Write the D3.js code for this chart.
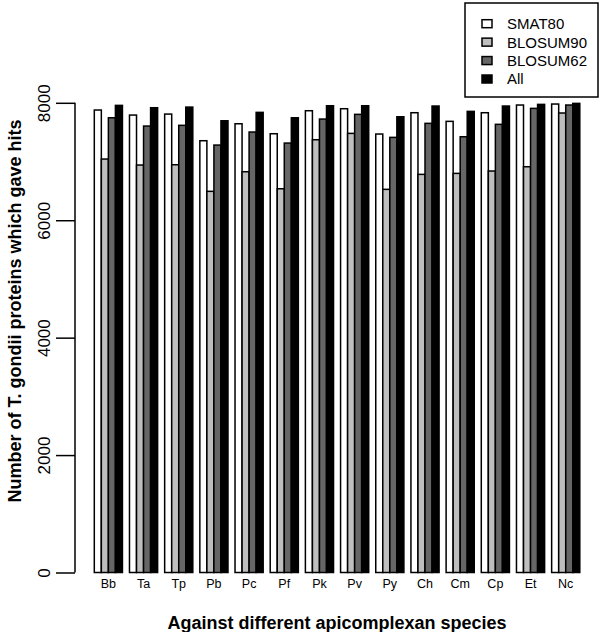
<!DOCTYPE html>
<html>
<head>
<meta charset="utf-8">
<script src="https://cdn.jsdelivr.net/npm/d3@7"></script>
<style>
  html, body { margin: 0; padding: 0; background: #fff; }
  svg { display: block; font-family: "Liberation Sans", Arial, Helvetica, sans-serif; }
</style>
</head>
<body>
<svg id="chart" width="600" height="632"></svg>
<script>
const categories = ["Bb","Ta","Tp","Pb","Pc","Pf","Pk","Pv","Py","Ch","Cm","Cp","Et","Nc"];
const seriesNames = ["SMAT80","BLOSUM90","BLOSUM62","All"];
const smat80   = [7877,7791,7808,7354,7643,7473,7865,7899,7468,7831,7684,7831,7962,7979];
const blosum90 = [7042,6940,6945,6492,6826,6536,7371,7479,6526,6781,6798,6838,6911,7826];
const blosum62 = [7745,7604,7616,7280,7502,7314,7723,7803,7411,7650,7422,7633,7905,7962];
const allHits  = [7956,7916,7927,7694,7837,7745,7950,7950,7762,7945,7854,7945,7973,7990];
const yTicks = [0,2000,4000,6000,8000];
const colors = ["#ffffff","#bebebe","#666666","#000000"];

const seriesValues = [smat80, blosum90, blosum62, allHits];

const svg = d3.select("#chart");

const y = d3.scaleLinear().domain([0, 8000]).range([572.5, 102.8]);
const x0 = d3.scaleBand().domain(categories).range([94.3, 579.8]).paddingInner(0.2).paddingOuter(0);
const x1 = d3.scaleBand().domain(seriesNames).range([0, x0.bandwidth()]).padding(0);

// bars
const groups = svg.append("g").selectAll("g")
  .data(categories)
  .join("g")
  .attr("transform", d => `translate(${x0(d)},0)`);

groups.selectAll("rect")
  .data((c, i) => seriesNames.map((s, j) => ({s, v: seriesValues[j][i], j})))
  .join("rect")
  .attr("x", d => x1(d.s))
  .attr("y", d => y(d.v))
  .attr("width", x1.bandwidth())
  .attr("height", d => y(0) - y(d.v))
  .attr("fill", d => colors[d.j])
  .attr("stroke", "#000")
  .attr("stroke-width", 1.5);

// category labels
svg.append("g").selectAll("text")
  .data(categories)
  .join("text")
  .attr("x", d => x0(d) + x0.bandwidth() / 2)
  .attr("y", 588)
  .attr("text-anchor", "middle")
  .attr("font-size", 12.5)
  .text(d => d);

// y axis
const yAxis = d3.axisLeft(y).tickValues(yTicks).tickSize(19).tickFormat(d3.format("d"));
const ag = svg.append("g").attr("transform", "translate(75,0)").call(yAxis);
ag.select(".domain").attr("stroke-width", 1.5).attr("d", `M-0,${y(0)}V${y(8000)}`);
ag.selectAll(".tick line").attr("stroke-width", 1.5);
ag.selectAll(".tick text")
  .attr("font-size", 17)
  .attr("font-family", "Liberation Sans, Arial, sans-serif")
  .attr("x", null).attr("dy", null)
  .attr("text-anchor", "middle")
  .attr("transform", "translate(-25,0) rotate(-90)")
  .attr("y", 0);

// axis titles
svg.append("text")
  .attr("transform", "translate(21,311) rotate(-90)")
  .attr("text-anchor", "middle")
  .attr("font-weight", "bold")
  .attr("font-size", 18)
  .text("Number of T. gondii proteins which gave hits");

svg.append("text")
  .attr("x", 337)
  .attr("y", 629)
  .attr("text-anchor", "middle")
  .attr("font-weight", "bold")
  .attr("font-size", 18)
  .text("Against different apicomplexan species");

// legend
const lg = svg.append("g");
lg.append("rect")
  .attr("x", 465).attr("y", 3).attr("width", 133).attr("height", 94)
  .attr("fill", "#fff").attr("stroke", "#000").attr("stroke-width", 1.5);
const rowY = d3.scalePoint().domain(seriesNames).range([23.7, 79]);
const rows = lg.selectAll("g.row").data(seriesNames).join("g").attr("class", "row")
  .attr("transform", d => `translate(0,${rowY(d)})`);
rows.append("rect")
  .attr("x", 482).attr("y", -4).attr("width", 10).attr("height", 8)
  .attr("fill", (d, i) => colors[i]).attr("stroke", "#000").attr("stroke-width", 1.5);
rows.append("text")
  .attr("x", 507).attr("y", 0).attr("dy", "0.36em")
  .attr("font-size", 15)
  .text(d => d);
</script>
</body>
</html>
